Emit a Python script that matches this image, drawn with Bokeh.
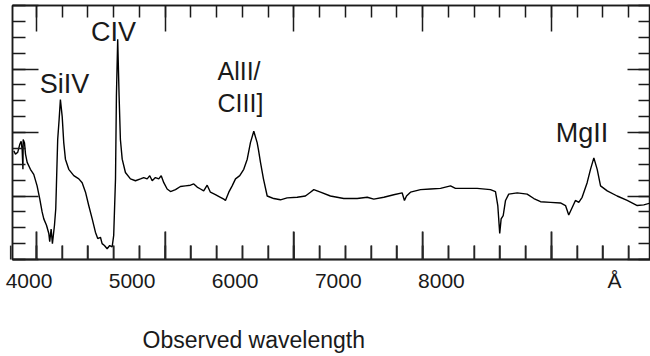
from bokeh.plotting import figure
from bokeh.models import Range1d, LinearAxis, FixedTicker, Title
from bokeh.core.properties import value
from bokeh.embed import file_html
from bokeh.resources import INLINE

# ---- data (observed wavelength in Angstrom, flux in arbitrary units) ----
wavelength = [3824, 3837, 3855, 3870, 3881, 3889, 3895, 3897, 3907, 3915, 3928, 3953, 3979,
              4005, 4026, 4044, 4057, 4078, 4096, 4103, 4114, 4124, 4140, 4150, 4155, 4165,
              4176, 4186, 4200, 4212, 4225, 4251, 4290, 4329, 4355, 4381, 4406, 4433, 4458,
              4476, 4497, 4510, 4528, 4549, 4569, 4588, 4600, 4614, 4621, 4631, 4642, 4652,
              4666, 4691, 4730, 4769, 4808, 4833, 4860, 4880, 4899, 4924, 4950, 4969, 4989,
              5015, 5041, 5080, 5118, 5157, 5196, 5222, 5248, 5274, 5299, 5326, 5351, 5390,
              5429, 5455, 5468, 5494, 5520, 5546, 5579, 5610, 5637, 5662, 5688, 5714, 5724,
              5740, 5763, 5792, 5817, 5843, 5895, 5947, 6025, 6089, 6128, 6154, 6206, 6283,
              6387, 6491, 6569, 6620, 6698, 6775, 6840, 6858, 6874, 6905, 6983, 7060, 7138,
              7216, 7254, 7319, 7423, 7526, 7565, 7583, 7598, 7609, 7625, 7643, 7668, 7734,
              7811, 7863, 7915, 7992, 8070, 8109, 8134, 8161, 8186, 8212, 8238, 8277, 8303,
              8329, 8355, 8381, 8433, 8510, 8588, 8666, 8717, 8769]
flux = [1.71, 1.66, 1.69, 1.81, 1.86, 1.73, 1.42, 1.89, 1.84, 1.66, 1.53, 1.42, 1.34,
        1.16, 0.95, 0.75, 0.64, 0.54, 0.41, 0.28, 0.48, 0.25, 0.54, 0.80, 1.16, 1.89,
        2.20, 2.52, 2.25, 1.84, 1.58, 1.42, 1.32, 1.27, 1.21, 1.06, 0.85, 0.64, 0.43,
        0.33, 0.35, 0.25, 0.22, 0.17, 0.22, 0.20, 0.38, 1.27, 2.57, 3.47, 2.57, 1.89,
        1.58, 1.37, 1.27, 1.24, 1.27, 1.29, 1.27, 1.32, 1.24, 1.29, 1.27, 1.32, 1.21,
        1.11, 1.07, 1.10, 1.15, 1.16, 1.17, 1.19, 1.14, 1.11, 1.08, 1.17, 1.06, 1.02,
        0.98, 0.95, 0.93, 1.06, 1.16, 1.27, 1.32, 1.42, 1.58, 1.84, 2.02, 1.84, 1.73,
        1.53, 1.27, 1.00, 0.98, 0.96, 0.94, 0.97, 0.98, 1.00, 1.06, 1.10, 1.06, 1.00,
        0.96, 0.96, 0.98, 0.95, 0.98, 1.02, 1.05, 0.93, 1.00, 1.06, 1.10, 1.11, 1.12,
        1.16, 1.12, 1.12, 1.12, 1.10, 1.07, 0.85, 0.41, 0.64, 0.69, 0.93, 1.03, 1.05,
        1.03, 0.96, 0.91, 0.90, 0.89, 0.85, 0.70, 0.82, 0.93, 0.90, 0.98, 1.21, 1.42,
        1.60, 1.42, 1.16, 1.08, 1.00, 0.93, 0.85, 0.86, 0.89]

line_names = ["SiIV", "CIV", "AlII/", "CIII]", "MgII"]
line_x = [4217, 4598, 5406, 5406, 8237]
line_y = [2.76, 3.58, 2.97, 2.47, 2.00]
line_size = ["27px", "27px", "25px", "25px", "27px"]
line_align = ["center", "center", "left", "left", "center"]

x_major = [4000, 5000, 6000, 7000, 8000]
x_minor = list(range(3800, 8801, 200))
y_major = [0, 1, 2, 3, 4]
y_minor = [i * 0.25 for i in range(0, 17)]

label_ticks = [4000, 5000, 6000, 7000, 8000, 9680]
label_text = {9680: "Å"}

FONT = "Liberation Sans"
INK = "#1a1a1a"
TICK_INK = "#2a2a2a"
Y0, Y1 = 0, 4
FRAME_H = 256  # px

p = figure(width=650, height=356, x_range=Range1d(3814, 8769), y_range=Range1d(Y0, Y1),
           output_backend="svg", toolbar_location=None,
           x_axis_location=None, y_axis_location=None,
           min_border_left=12, min_border_right=0, min_border_top=5, min_border_bottom=0)
p.grid.visible = False
p.outline_line_color = INK
p.outline_line_width = 1.5
p.background_fill_color = "white"
p.border_fill_color = "white"


def tick_axis(ticker, majors, major_in, minor_in, color=INK, **kw):
    return LinearAxis(ticker=ticker, major_tick_in=major_in, major_tick_out=0,
                      minor_tick_in=minor_in, minor_tick_out=0,
                      major_label_overrides={m: "" for m in majors},
                      major_label_standoff=0,
                      axis_line_color=color, axis_line_width=1.5,
                      major_tick_line_color=color, major_tick_line_width=1.5,
                      minor_tick_line_color=color, minor_tick_line_width=1.5, **kw)


p.add_layout(tick_axis(FixedTicker(ticks=x_major, minor_ticks=x_minor), x_major, 28, 14,
                       color=TICK_INK), "below")
p.add_layout(tick_axis(FixedTicker(ticks=x_major, minor_ticks=x_minor), x_major, 26, 12), "above")
p.add_layout(tick_axis(FixedTicker(ticks=y_major, minor_ticks=y_minor), y_major, 26, 13), "left")
p.add_layout(tick_axis(FixedTicker(ticks=y_major, minor_ticks=y_minor), y_major, 23, 12), "right")

# bottom tick marks also drawn through the scales (28 px major / 14 px minor)
px_per_unit = FRAME_H / (Y1 - Y0)
tick_x = x_major + x_minor
tick_top = [Y0 + 28 / px_per_unit] * len(x_major) + [Y0 + 14 / px_per_unit] * len(x_minor)
p.multi_line(xs=[[x, x] for x in tick_x], ys=[[Y0, t] for t in tick_top],
             line_color="#262626", line_width=1.6, level="overlay")

# tick labels as printed on the original figure (their own positions)
p.extra_x_ranges = {"labels": Range1d(3840, 10028)}
lab_ax = LinearAxis(x_range_name="labels", ticker=FixedTicker(ticks=label_ticks, minor_ticks=[]),
                    major_label_overrides=label_text,
                    major_tick_in=0, major_tick_out=0, minor_tick_in=0, minor_tick_out=0,
                    axis_line_color="#202020", axis_line_width=1.5,
                    major_tick_line_color=None, minor_tick_line_color=None,
                    major_label_text_font=FONT, major_label_text_font_size="21px",
                    major_label_text_color=INK, major_label_standoff=9)
p.add_layout(lab_ax, "below")

# invisible spacer between tick labels and the axis title
spacer = LinearAxis(ticker=FixedTicker(ticks=x_major, minor_ticks=[]),
                    major_label_overrides={m: "" for m in x_major},
                    major_tick_in=0, major_tick_out=30, minor_tick_in=0, minor_tick_out=0,
                    major_label_standoff=0,
                    axis_line_color=None, major_tick_line_color=None, minor_tick_line_color=None)
p.add_layout(spacer, "below")

t = Title(text="Observed wavelength", align="left", offset=130, vertical_align="top",
          text_font=FONT, text_font_size="23px", text_font_style="normal",
          text_color=INK, standoff=4)
p.add_layout(t, "below")

p.line(wavelength, flux, line_color="black", line_width=1.4)

p.text(x=line_x, y=line_y, text=line_names, text_align=line_align,
       text_baseline="alphabetic", text_font=value(FONT), text_font_size=line_size,
       text_color=INK)

html = file_html(p, INLINE)
html = html.replace("<head>", "<head><style>html,body{margin:0;padding:0;overflow:hidden;}</style>", 1)
open("out.html", "w").write(html)
